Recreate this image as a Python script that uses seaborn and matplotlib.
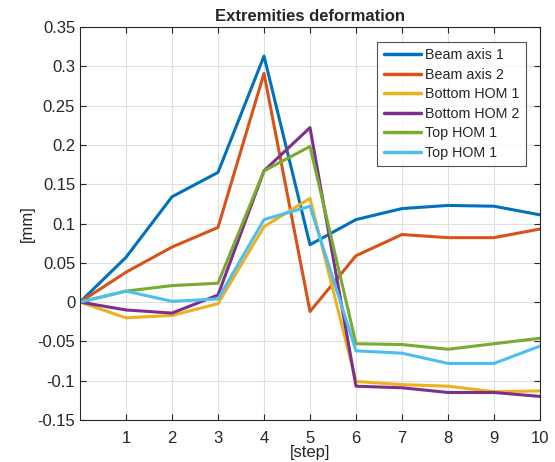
import numpy as np
import pandas as pd
import matplotlib
matplotlib.use("Agg")
import matplotlib.pyplot as plt
import seaborn as sns

steps = list(range(11))
beam_axis_1 = [0, 0.057, 0.134, 0.165, 0.313, 0.073, 0.105, 0.119, 0.123, 0.122, 0.111]
beam_axis_2 = [0, 0.038, 0.070, 0.095, 0.291, -0.012, 0.059, 0.086, 0.082, 0.082, 0.093]
bottom_hom_1 = [0, -0.020, -0.017, -0.002, 0.096, 0.132, -0.101, -0.105, -0.107, -0.114, -0.113]
bottom_hom_2 = [0, -0.010, -0.014, 0.009, 0.167, 0.222, -0.107, -0.109, -0.115, -0.115, -0.120]
top_hom_1a = [0, 0.014, 0.021, 0.024, 0.167, 0.198, -0.053, -0.054, -0.060, -0.053, -0.046]
top_hom_1b = [0, 0.014, 0.001, 0.004, 0.105, 0.122, -0.062, -0.065, -0.078, -0.078, -0.056]

names = ["Beam axis 1", "Beam axis 2", "Bottom HOM 1", "Bottom HOM 2", "Top HOM 1", "Top HOM 1 "]
series = [beam_axis_1, beam_axis_2, bottom_hom_1, bottom_hom_2, top_hom_1a, top_hom_1b]
colors = ["#0072BD", "#D95319", "#EDB120", "#7E2F8E", "#77AC30", "#4DBEEE"]

df = pd.concat(
    [pd.DataFrame({"step": steps, "value": vals, "series": name}) for name, vals in zip(names, series)],
    ignore_index=True,
)

sns.set_style("ticks")
plt.rcParams["font.family"] = ["Liberation Sans", "DejaVu Sans"]

fig = plt.figure(figsize=(5.55, 4.62), dpi=100)
ax = fig.add_axes([80 / 555, 1 - 420 / 462, 460 / 555, 393 / 462])

sns.lineplot(
    data=df, x="step", y="value", hue="series", hue_order=names,
    palette=dict(zip(names, colors)), linewidth=2.2, ax=ax,
)

ax.set_xlim(0, 10)
ax.set_ylim(-0.15, 0.35)
ax.set_xticks(range(1, 11))
ax.set_yticks(np.arange(-0.15, 0.351, 0.05))
ax.set_yticklabels(["-0.15", "-0.1", "-0.05", "0", "0.05", "0.1", "0.15", "0.2", "0.25", "0.3", "0.35"])
ax.grid(True, color="#dfdfdf", linewidth=0.8)
ax.tick_params(direction="in", top=True, right=True, labelsize=12, length=4, color="#262626")
ax.tick_params(axis="x", pad=8)
for s in ax.spines.values():
    s.set_color("#262626")
    s.set_linewidth(0.8)

ax.set_xlabel("[step]", fontsize=12, labelpad=-1)
ax.set_ylabel("[mm]", fontsize=12, labelpad=2)
ax.set_title("Extremities deformation", fontsize=12, fontweight="bold", pad=4)

leg = ax.legend(
    loc="upper right", bbox_to_anchor=(0.970, 0.962), fontsize=10.3, frameon=True,
    fancybox=False, edgecolor="#262626", handlelength=2.6, labelspacing=0.38,
    borderpad=0.45, handletextpad=0.3, borderaxespad=0,
)
leg.get_frame().set_linewidth(0.8)
for line in leg.get_lines():
    line.set_linewidth(2.5)

fig.savefig("out.png", dpi=100)
